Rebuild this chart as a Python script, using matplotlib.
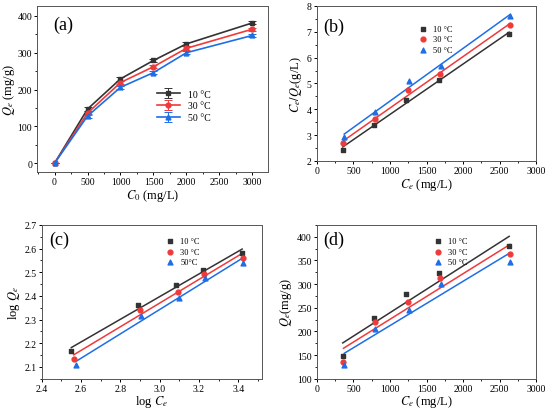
import numpy as np
import matplotlib
matplotlib.use('Agg')
import matplotlib.pyplot as plt
from matplotlib.ticker import MultipleLocator, AutoMinorLocator

plt.rcParams['font.family'] = ['Liberation Serif', 'DejaVu Serif']
plt.rcParams['mathtext.fontset'] = 'stix'
plt.rcParams['xtick.direction'] = 'out'
plt.rcParams['ytick.direction'] = 'out'

# data
temps = ['10 \u00b0C', '30 \u00b0C', '50 \u00b0C']
colors = ['#333333', '#f03a3a', '#1e6ee6']
markers = ['s', 'o', '^']

c0 = [0, 500, 1000, 1500, 2000, 3000]

ce_10 = [355, 778, 1218, 1664, 2630]
qe_10 = [147, 229, 279, 324, 381]
ce_30 = [365, 790, 1240, 1680, 2642]
qe_30 = [136, 219, 262, 312, 364]
ce_50 = [375, 800, 1258, 1697, 2645]
qe_50 = [128, 206, 246, 300, 347]

err_10 = [0, 6, 5, 4, 6, 4]
err_30 = [0, 5, 5, 4, 5, 4]
err_50 = [0, 5, 4, 5, 4, 4]

ce_all = [ce_10, ce_30, ce_50]
qe_all = [qe_10, qe_30, qe_50]
err_all = [err_10, err_30, err_50]

fig = plt.figure(figsize=(5.5, 4.1), dpi=100)
ax_a = fig.add_axes([0.068, 0.578, 0.419, 0.405])
ax_b = fig.add_axes([0.576, 0.605, 0.399, 0.378])
ax_c = fig.add_axes([0.076, 0.074, 0.400, 0.375])
ax_d = fig.add_axes([0.576, 0.074, 0.399, 0.375])

tick_fs = 7
label_fs = 9

def style(ax):
    ax.tick_params(labelsize=tick_fs, length=2.5, width=0.7, pad=1.2)
    ax.tick_params(which='minor', length=1.5, width=0.6)
    ax.xaxis.set_minor_locator(AutoMinorLocator(2))
    ax.yaxis.set_minor_locator(AutoMinorLocator(2))
    for s in ax.spines.values():
        s.set_linewidth(0.7)
        s.set_color('#555555')

# (a) Qe vs C0
for qe, err, col, mk, lab in zip(qe_all, err_all, colors, markers, temps):
    ax_a.errorbar(c0, [0] + qe, yerr=err, color=col, marker=mk, ms=3.5,
                  lw=1.2, capsize=3, elinewidth=0.7, capthick=0.7, label=lab)
ax_a.set_xlim(-260, 3235)
ax_a.set_ylim(-24, 427)
ax_a.xaxis.set_major_locator(MultipleLocator(500))
ax_a.yaxis.set_major_locator(MultipleLocator(100))
ax_a.set_xlabel('$C_0$ (mg/L)', fontsize=label_fs, labelpad=0.5)
ax_a.set_ylabel('$Q_e$ (mg/g)', fontsize=label_fs, labelpad=0.5)
ax_a.text(0.07, 0.89, '(a)', transform=ax_a.transAxes, fontsize=13, va='center')
ax_a.legend(loc='upper left', bbox_to_anchor=(0.5, 0.52), frameon=False,
            fontsize=7, handlelength=2.4, borderaxespad=0, labelspacing=0.3)

# (b) Langmuir: Ce/Qe vs Ce
for ce, qe, col, mk, lab in zip(ce_all, qe_all, colors, markers, temps):
    x = np.array(ce)
    y = x / np.array(qe)
    ax_b.scatter(x, y, color=col, marker=mk, s=12, label=lab, zorder=3)
    k, b = np.polyfit(x, y, 1)
    ax_b.plot(x[[0, -1]], k * x[[0, -1]] + b, color=col, lw=1.1)
ax_b.set_xlim(0, 3000)
ax_b.set_ylim(2, 8)
ax_b.xaxis.set_major_locator(MultipleLocator(500))
ax_b.yaxis.set_major_locator(MultipleLocator(1))
ax_b.set_xlabel('$C_e$ (mg/L)', fontsize=label_fs, labelpad=0.5)
ax_b.set_ylabel('$C_e/Q_e$(g/L)', fontsize=label_fs, labelpad=2)
ax_b.text(0.03, 0.87, '(b)', transform=ax_b.transAxes, fontsize=13, va='center')
ax_b.legend(loc='upper left', bbox_to_anchor=(0.43, 0.9), frameon=False,
            fontsize=6, handletextpad=0.2, borderaxespad=0, labelspacing=0.3)

# (c) Freundlich: log Qe vs log Ce
temps_c = ['10 \u00b0C', '30 \u00b0C', '50\u00b0C']
for ce, qe, col, mk, lab in zip(ce_all, qe_all, colors, markers, temps_c):
    x = np.log10(ce)
    y = np.log10(qe)
    ax_c.scatter(x, y, color=col, marker=mk, s=12, label=lab, zorder=3)
    k, b = np.polyfit(x, y, 1)
    ax_c.plot(x[[0, -1]], k * x[[0, -1]] + b, color=col, lw=1.1)
ax_c.set_xlim(2.4, 3.52)
ax_c.set_ylim(2.05, 2.7)
ax_c.xaxis.set_major_locator(MultipleLocator(0.2))
ax_c.yaxis.set_major_locator(MultipleLocator(0.1))
ax_c.set_xlabel('log $C_e$', fontsize=label_fs, labelpad=0.5)
ax_c.set_ylabel('log $Q_e$', fontsize=label_fs, labelpad=2)
ax_c.text(0.036, 0.905, '(c)', transform=ax_c.transAxes, fontsize=13, va='center')
ax_c.legend(loc='upper left', bbox_to_anchor=(0.53, 0.94), frameon=False,
            fontsize=6, handletextpad=0.2, borderaxespad=0, labelspacing=0.3)

# (d) Qe vs Ce
for ce, qe, col, mk, lab in zip(ce_all, qe_all, colors, markers, temps):
    x = np.array(ce)
    y = np.array(qe)
    ax_d.scatter(x, y, color=col, marker=mk, s=12, label=lab, zorder=3)
    k, b = np.polyfit(x, y, 1)
    ax_d.plot(x[[0, -1]], k * x[[0, -1]] + b, color=col, lw=1.1)
ax_d.set_xlim(0, 3000)
ax_d.set_ylim(100, 425)
ax_d.xaxis.set_major_locator(MultipleLocator(500))
ax_d.yaxis.set_major_locator(MultipleLocator(50))
ax_d.set_xlabel('$C_e$ (mg/L)', fontsize=label_fs, labelpad=0.5)
ax_d.set_ylabel('$Q_e$(mg/g)', fontsize=label_fs, labelpad=2)
ax_d.text(0.03, 0.905, '(d)', transform=ax_d.transAxes, fontsize=13, va='center')
ax_d.legend(loc='upper left', bbox_to_anchor=(0.5, 0.94), frameon=False,
            fontsize=6, handletextpad=0.2, borderaxespad=0, labelspacing=0.3)

for ax in (ax_a, ax_b, ax_c, ax_d):
    style(ax)

fig.savefig('out.png', dpi=100)
